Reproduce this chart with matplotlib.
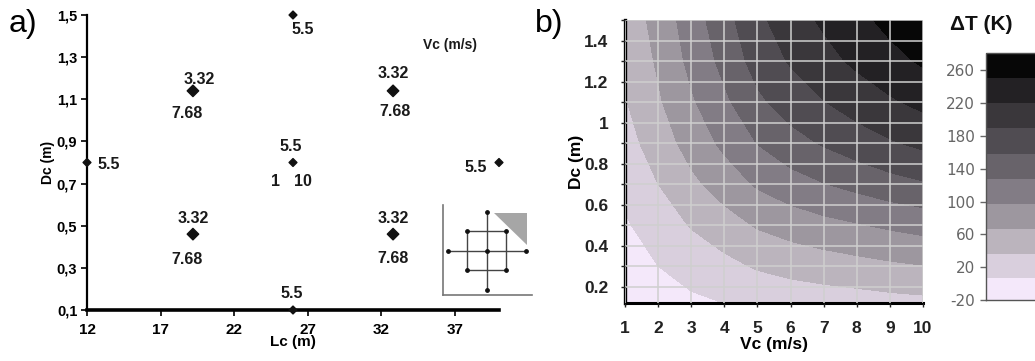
import numpy as np
import matplotlib
matplotlib.use('Agg')
import matplotlib.pyplot as plt
from matplotlib.ticker import MultipleLocator

plt.rcParams['font.family'] = ['Liberation Sans', 'DejaVu Sans']
plt.rcParams['axes.unicode_minus'] = False

# ---- a) design points (Lc, Dc) and the Vc values written next to them
lc = [12, 19.2, 19.2, 26, 26, 26, 32.8, 32.8, 40]
dc = [0.8, 0.46, 1.14, 0.1, 0.8, 1.5, 0.46, 1.14, 0.8]
label_pt = [0, 2, 2, 7, 7, 5, 4, 4, 4, 8, 1, 1, 6, 6, 3]
label_txt = ['5.5', '3.32', '7.68', '3.32', '7.68', '5.5', '5.5', '1', '10',
             '5.5', '3.32', '7.68', '3.32', '7.68', '5.5']
# coded levels of the small design sketch
coded = [-2, -1, 0, 1, 2]

# ---- b) dT (K), rows = Dc, cols = Vc
vc_grid = [1, 2, 3, 4, 5, 6, 7, 8, 9, 10]
dc_grid = [0.1, 0.3, 0.5, 0.7, 0.9, 1.1, 1.3, 1.5]
dT = [
    [-12, -6, 0, 5, 10, 14, 17, 19, 22, 24],
    [-4, 7, 18, 28, 39, 46, 51, 56, 61, 65],
    [4, 20, 38, 53, 69, 79, 88, 95, 102, 108],
    [14, 36, 59, 80, 101, 116, 127, 137, 147, 155],
    [25, 50, 78, 104, 129, 147, 161, 174, 186, 196],
    [34, 62, 93, 122, 152, 172, 188, 203, 216, 228],
    [41, 70, 105, 137, 170, 192, 210, 226, 241, 254],
    [46, 77, 113, 147, 182, 206, 225, 242, 258, 272],
]
levels = [-20, 7, 36, 66, 97, 128, 158, 189, 220, 250, 281]
cb_ticks = [-20, 20, 60, 100, 140, 180, 220, 260]

band_colors = ['#f4e8fa', '#d9cfdd', '#bbb4bd', '#9d979f', '#827c85',
               '#68636a', '#504c52', '#3a373b', '#232124', '#070707']

W, H = 1035, 361
fig = plt.figure(figsize=(W / 100, H / 100), dpi=100)

# ================= panel a
ax = fig.add_axes([87 / W, 1 - 310 / H, 412 / W, 295 / H])
fact = [not (x in (12, 26, 40)) for x in lc]
sizes = [34 if f else 16 for f in fact]
ax.scatter(lc, dc, s=sizes, marker='D', color='#111111', zorder=3, clip_on=False)

offs = [(22, -2), (6, 11), (-6, -23), (0, 17), (2, -21), (10, -14), (-2, 16),
        (-18, -19), (10, -19), (-23, -5), (0, 16), (-6, -25), (0, 16), (0, -24), (-1, 16)]
for i, t, o in zip(label_pt, label_txt, offs):
    ax.annotate(t, (lc[i], dc[i]), xytext=o, textcoords='offset pixels',
                ha='center', va='center', fontsize=11.5, fontweight='bold', color='#1a1a1a')

ax.text(36.65, 1.358, 'Vc (m/s)', ha='center', va='center', fontsize=10,
        fontweight='bold', color='#1a1a1a')

ax.set_xlim(12, 40)
ax.set_ylim(0.1, 1.5)
ax.set_xticks([12, 17, 22, 27, 32, 37])
yt = [0.1, 0.3, 0.5, 0.7, 0.9, 1.1, 1.3, 1.5]
ax.set_yticks(yt)
ax.set_yticklabels([f'{v:.1f}'.replace('.', ',') for v in yt])
for s in ['top', 'right']:
    ax.spines[s].set_visible(False)
ax.spines['left'].set_linewidth(1.6)
ax.spines['bottom'].set_linewidth(2.6)
ax.tick_params(direction='out', length=4, width=1.2, labelsize=10.5, pad=3)
for lab in ax.get_xticklabels() + ax.get_yticklabels():
    lab.set_fontweight('bold')
ax.tick_params(axis='x', pad=5, labelsize=11)
ax.set_xlabel('Lc (m)', fontsize=11, fontweight='bold', labelpad=-1)
ax.set_ylabel('Dc (m)', fontsize=10, fontweight='bold', labelpad=1)

# small design sketch
ins = fig.add_axes([436 / W, 1 - 300 / H, 100 / W, 100 / H])
ins.set_xlim(-2.6, 2.53)
ins.set_ylim(-2.53, 2.6)
ins.axis('off')
lo, hi = coded[0], coded[-1]
ins.plot([lo - 0.24, lo - 0.24], [lo - 0.27, hi + 0.35], color='#777777', lw=1.2)
ins.plot([lo - 0.24, hi + 0.32], [lo - 0.27, lo - 0.27], color='#777777', lw=1.2)
ins.plot([lo, hi], [0, 0], color='#444444', lw=1)
ins.plot([0, 0], [lo, hi], color='#444444', lw=1)
sq = [coded[1], coded[3]]
ins.plot([sq[0], sq[1], sq[1], sq[0], sq[0]], [sq[0], sq[0], sq[1], sq[1], sq[0]],
         color='#444444', lw=1)
ins.scatter([lo, hi, 0, 0, 0, sq[0], sq[1], sq[0], sq[1]],
            [0, 0, lo, hi, 0, sq[0], sq[0], sq[1], sq[1]], s=6, color='#111111', zorder=3)
ins.fill([0.37, 2.07, 2.07], [1.93, 1.93, 0.29], color='#a6a6a6', lw=0)

fig.text(23 / W, 1 - 24 / H, 'a)', fontsize=23, ha='center', va='center')

# ================= panel b
bx = fig.add_axes([625 / W, 1 - 303 / H, 298 / W, 283 / H])
cf = bx.contourf(vc_grid, dc_grid, np.array(dT), levels=levels, colors=band_colors)
bx.set_xlim(1, 10)
bx.set_ylim(0.12, 1.5)
bx.set_xticks(vc_grid)
bx.set_yticks([0.2, 0.4, 0.6, 0.8, 1.0, 1.2, 1.4])
bx.set_yticklabels(['0.2', '0.4', '0.6', '0.8', '1', '1.2', '1.4'])
bx.yaxis.set_minor_locator(MultipleLocator(0.1))
bx.set_axisbelow(False)
bx.grid(True, which='both', color='#cfcfcf', lw=1.3, alpha=0.85)
bx.tick_params(axis='y', which='both', direction='out', length=3, width=1, pad=9,
               labelsize=12.5, colors='#222222')
bx.tick_params(axis='x', direction='out', length=3, width=1, pad=10,
               labelsize=12.5, colors='#222222')
for lab in bx.get_xticklabels() + bx.get_yticklabels():
    lab.set_fontweight('bold')
for s in ['top', 'right']:
    bx.spines[s].set_visible(False)
bx.spines['left'].set_linewidth(2.4)
bx.spines['bottom'].set_linewidth(2.2)
bx.set_xlabel('Vc (m/s)', fontsize=12.5, fontweight='bold', labelpad=1)
bx.set_ylabel('Dc (m)', fontsize=12.5, fontweight='bold', labelpad=0)

fig.text(549 / W, 1 - 24 / H, 'b)', fontsize=23, ha='center', va='center')

cax = fig.add_axes([986 / W, 1 - 300 / H, 70 / W, 247 / H])
cb = fig.colorbar(cf, cax=cax, spacing='proportional', ticks=cb_ticks)
cax.yaxis.set_ticks_position('left')
cax.tick_params(length=4, width=1, colors='#666666', labelsize=11, pad=4)
for lab in cax.get_yticklabels():
    lab.set_family('DejaVu Sans')
cb.outline.set_edgecolor('#555555')
cb.outline.set_linewidth(1)
fig.text(981 / W, 1 - 24 / H, 'ΔT (K)', fontsize=15, fontweight='bold',
         ha='center', va='center', color='#111111')

fig.savefig('out.png', dpi=100)
